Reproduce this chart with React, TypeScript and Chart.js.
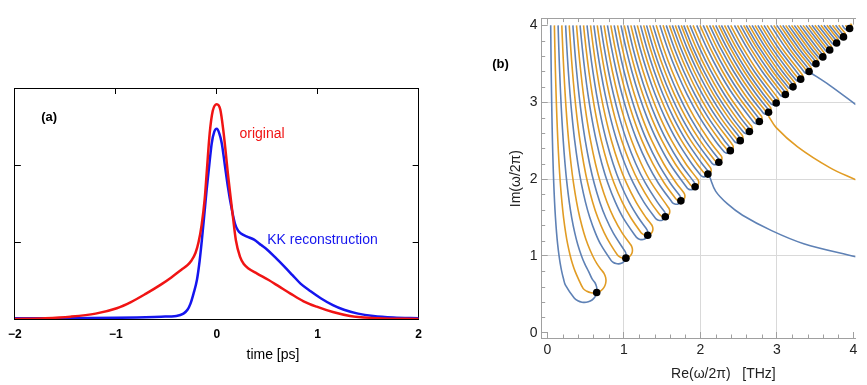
import React, { useEffect, useRef } from "react";
import { Chart, registerables } from "chart.js";
Chart.register(...registerables);

const FONT = '"Liberation Sans", Arial, Helvetica, sans-serif';

// ---------------- Panel (a) data ----------------
const timeRed = [-2, -1.7, -1.45, -1.2, -0.99, -0.85, -0.7, -0.55, -0.45, -0.35, -0.29, -0.25, -0.21, -0.18, -0.15, -0.12, -0.1, -0.07, -0.04, 0, 0.035, 0.065, 0.09, 0.11, 0.14, 0.16, 0.19, 0.23, 0.27, 0.31, 0.4, 0.51, 0.62, 0.73, 0.86, 0.99, 1.15, 1.32, 1.6, 2];
const ampRed = [0, 0.01, 0.03, 0.07, 0.14, 0.22, 0.33, 0.45, 0.54, 0.64, 0.7, 0.76, 0.86, 1.0, 1.22, 1.55, 1.89, 2.41, 2.7, 2.79, 2.72, 2.45, 2.15, 1.89, 1.55, 1.33, 1.02, 0.81, 0.71, 0.66, 0.59, 0.51, 0.42, 0.33, 0.23, 0.16, 0.09, 0.04, 0.01, 0];
const timeKK = [-2, -1.5, -1.0, -0.79, -0.55, -0.4, -0.33, -0.29, -0.26, -0.23, -0.196, -0.17, -0.147, -0.12, -0.1, -0.07, -0.05, -0.025, 0, 0.025, 0.05, 0.08, 0.11, 0.145, 0.18, 0.21, 0.24, 0.3, 0.37, 0.44, 0.5, 0.58, 0.67, 0.75, 0.83, 0.93, 1.03, 1.15, 1.26, 1.4, 1.55, 1.75, 2];
const ampKK = [0.01, 0.01, 0.015, 0.02, 0.03, 0.04, 0.07, 0.12, 0.2, 0.33, 0.51, 0.75, 1.03, 1.4, 1.68, 2.05, 2.28, 2.43, 2.47, 2.41, 2.28, 2.0, 1.72, 1.45, 1.24, 1.15, 1.11, 1.07, 1.03, 0.96, 0.9, 0.8, 0.68, 0.57, 0.46, 0.36, 0.27, 0.18, 0.12, 0.07, 0.04, 0.02, 0.01];
const aXTicks = [-2, -1, 0, 1, 2];
const aXTickLabels = ["\u22122", "\u22121", "0", "1", "2"];
const aTopTicks = [-1, 0, 1];
const aSideTicks = [1, 2];

// ---------------- Panel (b) data ----------------
// branch points (black dots)
const dotX = [0.643, 1.025, 1.31, 1.54, 1.744, 1.93, 2.097, 2.24, 2.39, 2.52, 2.64, 2.77, 2.89, 2.99, 3.11, 3.21, 3.31, 3.42, 3.51, 3.6, 3.69, 3.78, 3.87, 3.95];
const dotY = [0.524, 0.972, 1.27, 1.51, 1.717, 1.9, 2.065, 2.22, 2.37, 2.5, 2.62, 2.75, 2.87, 2.99, 3.1, 3.2, 3.3, 3.4, 3.5, 3.59, 3.68, 3.77, 3.85, 3.96];
// tails that leave the fan towards the right edge
const blueTailLowX = [2.12, 2.2, 2.35, 2.55, 2.93, 3.35, 4.03];
const blueTailLowY = [2.03, 1.84, 1.68, 1.53, 1.33, 1.16, 0.99];
const orangeTailX = [2.89, 2.99, 3.27, 3.69, 4.03];
const orangeTailY = [2.82, 2.67, 2.42, 2.15, 1.99];
const blueTailHighX = [3.43, 3.69, 4.03];
const blueTailHighY = [3.39, 3.22, 2.97];
// fan geometry
const fanTopY = 4;
const fanPower = 0.85;
const spreadPower = 0.8;
const loopStretch = 1.1;
const fanSampleY = [4, 3.7, 3.4, 3.1, 2.8, 2.5, 2.2, 1.95, 1.7, 1.5, 1.3, 1.15, 1.0, 0.9, 0.8, 0.7, 0.62];
const bMajorTicks = [0, 1, 2, 3, 4];
const bTickLabels = ["0", "1", "2", "3", "4"];
const bGridValues = [1, 2, 3];
const bMinorTicks = [0.2, 0.4, 0.6, 0.8, 1.2, 1.4, 1.6, 1.8, 2.2, 2.4, 2.6, 2.8, 3.2, 3.4, 3.6, 3.8];

const RED = "#f01414";
const BLUE = "#1515ee";
const MBLUE = "#5E81B5";
const MORANGE = "#E19C24";

type Pt = { x: number; y: number };

function buildFingers() {
  const centers = dotX.map((x, k) => x / Math.pow(fanTopY / dotY[k], fanPower));
  const n = centers.length;
  const blue: Pt[][] = [];
  const orange: Pt[][] = [];
  for (let k = 0; k < n; k++) {
    const prev = k > 0 ? centers[k - 1] : centers[0] - (centers[1] - centers[0]);
    const next = k < n - 1 ? centers[k + 1] : centers[k] + (centers[k] - centers[k - 1]);
    const d = (next - prev) / 8;
    const c = centers[k];
    const xd = dotX[k], yd = dotY[k];
    const sx = (fanPower * xd) / yd;
    const nn = Math.hypot(sx, 1);
    const u = [sx / nn, -1 / nn];
    const v = [1 / nn, sx / nn];
    const D = (d * Math.pow(fanTopY / yd, spreadPower)) / nn;
    const pe = [xd - 0.866 * loopStretch * D * u[0], yd - 0.866 * loopStretch * D * u[1]];
    const end = (o: number) => [pe[0] + o * D * v[0], pe[1] + o * D * v[1]];
    const arm = (o: number): Pt[] => {
      const e = end(o);
      const pts: Pt[] = [];
      for (const y of fanSampleY) {
        if (y === fanTopY || y > e[1] + 0.07) {
          pts.push({ x: c * Math.pow(fanTopY / y, fanPower) + o * d * Math.pow(fanTopY / y, spreadPower), y });
        }
      }
      pts.push({ x: e[0], y: e[1] });
      return pts;
    };
    const arc = (oc: number): Pt[] => {
      const m = [pe[0] + oc * D * v[0], pe[1] + oc * D * v[1]];
      const pts: Pt[] = [];
      for (let i = 1; i < 10; i++) {
        const f = (Math.PI * i) / 10;
        pts.push({
          x: m[0] + D * (-Math.cos(f) * v[0] + loopStretch * Math.sin(f) * u[0]),
          y: m[1] + D * (-Math.cos(f) * v[1] + loopStretch * Math.sin(f) * u[1]),
        });
      }
      return pts;
    };
    blue.push([...arm(-1.5), ...arc(-0.5), ...arm(0.5).reverse()]);
    orange.push([...arm(-0.5), ...arc(0.5), ...arm(1.5).reverse()]);
  }
  return { blue, orange };
}

const zip = (xs: number[], ys: number[]): Pt[] => xs.map((x, i) => ({ x, y: ys[i] }));

export default function App() {
  const refA = useRef<HTMLCanvasElement>(null);
  const refB = useRef<HTMLCanvasElement>(null);

  useEffect(() => {
    // ---------- chart (a) ----------
    const textA = {
      id: "textA",
      afterDraw(chart: any) {
        const { ctx, scales } = chart;
        const x = scales.x, y = scales.y;
        ctx.save();
        ctx.textBaseline = "middle";
        ctx.font = `bold 13px ${FONT}`;
        ctx.fillStyle = "#000";
        ctx.textAlign = "center";
        ctx.fillText("(a)", x.getPixelForValue(-1.66), y.getPixelForValue(2.62));
        ctx.font = `14px ${FONT}`;
        ctx.textAlign = "left";
        ctx.fillStyle = RED;
        ctx.fillText("original", x.getPixelForValue(0.225), y.getPixelForValue(2.4));
        ctx.fillStyle = BLUE;
        ctx.fillText("KK reconstruction", x.getPixelForValue(0.5), y.getPixelForValue(1.03));
        ctx.fillStyle = "#000";
        ctx.textAlign = "center";
        ctx.fillText("time [ps]", x.getPixelForValue(0.557), y.bottom + 36);
        ctx.restore();
      },
    };
    const sideAxis = (position: string, size: number, ticks: number[], min: number, max: number, horizontal: boolean) => ({
      type: "linear",
      position,
      min,
      max,
      afterBuildTicks: (s: any) => { s.ticks = ticks.map((v) => ({ value: v })); },
      afterFit: (s: any) => { if (horizontal) s.height = size; else s.width = size; },
      ticks: { display: false },
      grid: { drawOnChartArea: false, drawTicks: true, tickLength: -6, tickColor: "#000", tickWidth: 1 },
      border: { display: true, color: "#000", width: 1 },
    });
    const chartA = new Chart(refA.current as HTMLCanvasElement, {
      type: "line",
      data: {
        datasets: [
          { data: zip(timeRed, ampRed), borderColor: RED, borderWidth: 2.5, pointRadius: 0, cubicInterpolationMode: "monotone", fill: false },
          { data: zip(timeKK, ampKK), borderColor: BLUE, borderWidth: 2.5, pointRadius: 0, cubicInterpolationMode: "monotone", fill: false },
        ],
      },
      options: {
        animation: false,
        responsive: false,
        devicePixelRatio: 1,
        layout: { padding: 0 },
        plugins: { legend: { display: false }, tooltip: { enabled: false } },
        scales: {
          x: {
            type: "linear",
            position: "bottom",
            min: -2,
            max: 2,
            afterBuildTicks: (s: any) => { s.ticks = aXTicks.map((v) => ({ value: v })); },
            afterFit: (s: any) => { s.height = 66; },
            ticks: {
              callback: (v: any) => aXTickLabels[aXTicks.indexOf(Number(v))] ?? "",
              font: { family: FONT, size: 12, weight: "bold" },
              color: "#000",
              padding: 8,
              maxRotation: 0,
              autoSkip: false,
            },
            grid: { drawOnChartArea: false, drawTicks: false },
            border: { display: true, color: "#000", width: 1 },
          },
          xTop: sideAxis("top", 88, aTopTicks, -2, 2, true),
          y: sideAxis("left", 10, aSideTicks, 0, 3, false),
          yRight: sideAxis("right", 11, aSideTicks, 0, 3, false),
        },
      } as any,
      plugins: [textA],
    } as any);

    // ---------- chart (b) ----------
    const { blue, orange } = buildFingers();
    const lineDs = (pts: Pt[], color: string) => ({
      data: pts,
      borderColor: color,
      borderWidth: 1.6,
      pointRadius: 0,
      tension: 0.35,
      fill: false,
    });
    const datasets: any[] = [
      {
        data: zip(dotX, dotY),
        showLine: false,
        pointRadius: 3.8,
        pointBackgroundColor: "#000",
        pointBorderWidth: 0,
        borderColor: "#000",
      },
      lineDs(zip(blueTailLowX, blueTailLowY), MBLUE),
      lineDs(zip(orangeTailX, orangeTailY), MORANGE),
      lineDs(zip(blueTailHighX, blueTailHighY), MBLUE),
    ];
    for (let k = 0; k < blue.length; k++) {
      datasets.push(lineDs(orange[k], MORANGE));
      datasets.push(lineDs(blue[k], MBLUE));
    }
    const decorB = {
      id: "decorB",
      beforeDatasetsDraw(chart: any) {
        const { ctx, scales, chartArea } = chart;
        const x = scales.x, y = scales.y;
        ctx.save();
        ctx.strokeStyle = "#a0a0a0";
        ctx.lineWidth = 1;
        ctx.beginPath();
        for (const v of bMinorTicks) {
          const px = Math.round(x.getPixelForValue(v)) + 0.5;
          ctx.moveTo(px, chartArea.bottom);
          ctx.lineTo(px, chartArea.bottom - 3.5);
          ctx.moveTo(px, chartArea.top);
          ctx.lineTo(px, chartArea.top + 3.5);
          const py = Math.round(y.getPixelForValue(v)) + 0.5;
          ctx.moveTo(chartArea.left, py);
          ctx.lineTo(chartArea.left + 3.5, py);
        }
        ctx.stroke();
        ctx.restore();
      },
      afterDraw(chart: any) {
        const { ctx, scales, chartArea } = chart;
        const x = scales.x, y = scales.y;
        ctx.save();
        ctx.fillStyle = "#000";
        ctx.textAlign = "center";
        ctx.textBaseline = "middle";
        ctx.font = `bold 13px ${FONT}`;
        ctx.fillText("(b)", x.getPixelForValue(-0.614), y.getPixelForValue(3.489));
        ctx.font = `14px ${FONT}`;
        ctx.fillStyle = "#222";
        ctx.fillText("Re(\u03c9/2\u03c0)   [THz]", x.getPixelForValue(2.3), chartArea.bottom + 36);
        ctx.translate(x.getPixelForValue(-0.412), y.getPixelForValue(2.006));
        ctx.rotate(-Math.PI / 2);
        ctx.fillText("Im(\u03c9/2\u03c0)", 0, 0);
        ctx.restore();
      },
    };
    const chartB = new Chart(refB.current as HTMLCanvasElement, {
      type: "line",
      data: { datasets },
      options: {
        animation: false,
        responsive: false,
        devicePixelRatio: 1,
        layout: { padding: 0 },
        plugins: { legend: { display: false }, tooltip: { enabled: false } },
        scales: {
          x: {
            type: "linear",
            position: "bottom",
            min: -0.076,
            max: 4.026,
            afterBuildTicks: (s: any) => { s.ticks = bMajorTicks.map((v) => ({ value: v })); },
            afterFit: (s: any) => { s.height = 47; },
            ticks: {
              callback: (v: any) => bTickLabels[bMajorTicks.indexOf(Number(v))] ?? "",
              font: { family: FONT, size: 14 },
              color: "#222",
              padding: 9.6,
              maxRotation: 0,
              autoSkip: false,
            },
            grid: {
              drawOnChartArea: true,
              color: (c: any) => (c.tick && bGridValues.includes(c.tick.value) ? "#d9d9d9" : "rgba(0,0,0,0)"),
              tickColor: "#a0a0a0",
              tickLength: -6,
              lineWidth: 1,
            },
            border: { display: true, color: "#a0a0a0", width: 1 },
          },
          xTop: {
            type: "linear",
            position: "top",
            min: -0.076,
            max: 4.026,
            afterBuildTicks: (s: any) => { s.ticks = bMajorTicks.map((v) => ({ value: v })); },
            afterFit: (s: any) => { s.height = 7.3; },
            ticks: { display: false },
            grid: { drawOnChartArea: false, tickColor: "#a0a0a0", tickLength: -6 },
            border: { display: true, color: "#a0a0a0", width: 1 },
          },
          y: {
            type: "linear",
            position: "left",
            min: -0.067,
            max: 4.088,
            afterBuildTicks: (s: any) => { s.ticks = bMajorTicks.map((v) => ({ value: v })); },
            afterFit: (s: any) => { s.width = 101.7; },
            ticks: {
              callback: (v: any) => bTickLabels[bMajorTicks.indexOf(Number(v))] ?? "",
              font: { family: FONT, size: 14 },
              color: "#222",
              padding: 10.2,
            },
            grid: {
              drawOnChartArea: true,
              color: (c: any) => (c.tick && bGridValues.includes(c.tick.value) ? "#d9d9d9" : "rgba(0,0,0,0)"),
              tickColor: "#a0a0a0",
              tickLength: -6,
              lineWidth: 1,
            },
            border: { display: true, color: "#a0a0a0", width: 1 },
          },
        },
      } as any,
      plugins: [decorB],
    } as any);

    return () => {
      chartA.destroy();
      chartB.destroy();
    };
  }, []);

  return (
    <div style={{ position: "fixed", left: 0, top: 0, width: 867, height: 385, background: "#fff" }}>
      <canvas ref={refA} width={430} height={385} style={{ position: "absolute", left: 0, top: 0, width: 430, height: 385 }} />
      <canvas ref={refB} width={427} height={385} style={{ position: "absolute", left: 440, top: 0, width: 427, height: 385 }} />
    </div>
  );
}
